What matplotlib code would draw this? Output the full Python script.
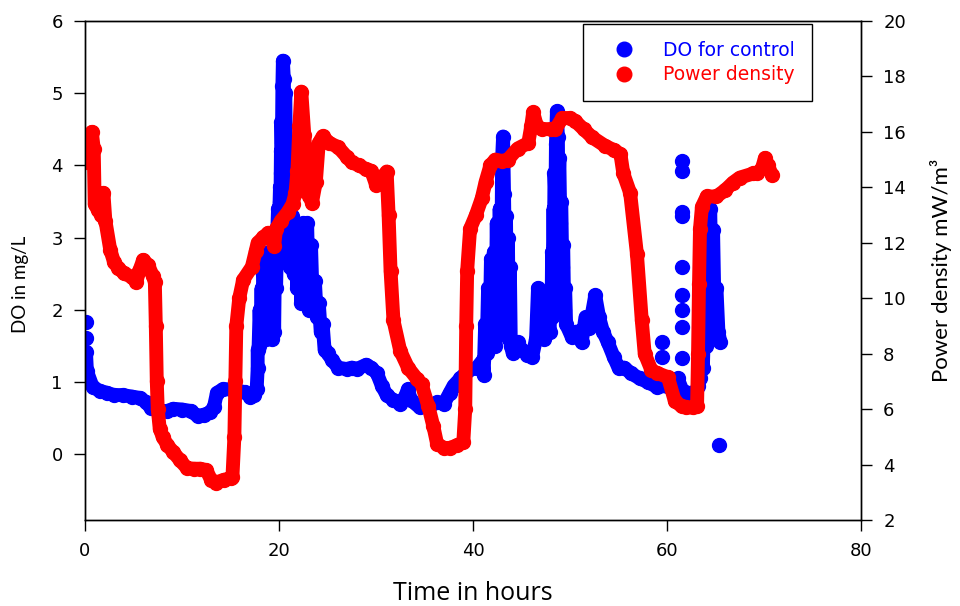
import matplotlib
matplotlib.use('Agg')
import matplotlib.pyplot as plt
from matplotlib.lines import Line2D

# DO for control (mg/L), main trace in time order
do_hours = [0.1, 0.2, 0.8, 1.5, 2.3, 3.0, 3.9, 4.8, 5.7, 6.3, 6.8, 7.5, 8.5, 9.1, 10.0,
            10.9, 11.6, 12.3, 12.9, 13.3, 13.6, 14.2, 15.0, 15.8, 16.5, 17.0, 17.4, 17.7,
            17.8, 17.8, 17.9, 18.0, 18.1, 18.2, 18.3, 18.4, 18.5, 18.6, 18.7, 18.8, 18.9,
            19.0, 19.1, 19.2, 19.3, 19.4, 19.5, 19.6, 19.7, 19.8, 19.9, 20.0, 20.1, 20.15,
            20.2, 20.2, 20.25, 20.3, 20.35, 20.4, 20.5, 20.55, 20.65, 20.7, 20.8, 20.9, 21.0,
            21.1, 21.3, 21.5, 21.7, 21.9, 22.1, 22.3, 22.5, 22.7, 22.9, 23.1, 23.3, 23.5,
            23.7, 23.9, 24.1, 24.3, 24.5, 24.7, 25.0, 25.5, 26.1, 27.0, 27.5, 28.0, 29.0,
            29.5, 30.1, 30.6, 31.1, 31.8, 32.5, 33.0, 33.3, 33.6, 34.5, 35.5, 36.3, 37.0,
            37.6, 38.0, 38.7, 39.4, 40.4, 41.0, 41.1, 41.25, 41.4, 41.55, 41.7, 41.85, 42.0,
            42.15, 42.3, 42.45, 42.6, 42.75, 42.9, 43.0, 43.1, 43.2, 43.3, 43.4, 43.5, 43.6,
            43.7, 43.8, 43.9, 44.1, 44.6, 45.0, 45.6, 46.1, 46.5, 46.7, 46.9, 47.3, 47.7,
            47.9, 48.0, 48.1, 48.15, 48.2, 48.3, 48.35, 48.4, 48.5, 48.55, 48.65, 48.75, 48.8,
            48.9, 49.0, 49.1, 49.2, 49.3, 49.4, 49.5, 49.6, 50.2, 50.7, 51.2, 51.6, 52.0,
            52.6, 53.0, 53.4, 53.9, 54.5, 55.0, 55.6, 56.3, 57.2, 58.0, 59.0, 60.0, 61.1,
            61.6, 62.2, 62.8, 63.2, 63.4, 63.6, 63.7, 63.9, 64.0, 64.2, 64.3, 64.45, 64.6,
            64.75, 64.9, 65.1, 65.3, 65.5]
do_values = [1.42, 1.15, 0.93, 0.88, 0.85, 0.82, 0.82, 0.80, 0.78, 0.72, 0.64, 0.60, 0.60, 0.63, 0.62,
             0.60, 0.53, 0.55, 0.58, 0.66, 0.85, 0.90, 0.90, 0.88, 0.86, 0.80, 0.82, 0.90,
             1.19, 1.44, 1.50, 2.00, 1.60, 2.30, 1.60, 2.50, 1.70, 2.60, 1.60, 2.70, 1.70,
             2.80, 1.80, 2.60, 1.60, 2.80, 1.70, 2.90, 2.30, 3.00, 3.40, 3.20, 3.70, 3.50,
             4.20, 3.90, 4.60, 4.30, 5.10, 5.45, 5.20, 4.60, 5.00, 4.30, 3.80, 4.10, 3.40,
             2.60, 3.30, 2.50, 3.20, 2.30, 3.10, 2.10, 3.20, 2.10, 3.20, 2.00, 2.90, 2.00,
             2.40, 1.90, 2.10, 1.70, 1.80, 1.45, 1.40, 1.30, 1.20, 1.18, 1.20, 1.18, 1.24,
             1.20, 1.12, 0.95, 0.82, 0.75, 0.70, 0.80, 0.90, 0.75, 0.65, 0.66, 0.72, 0.70,
             0.85, 0.95, 1.05, 1.15, 1.20, 1.30, 1.10, 1.80, 1.40, 2.30, 1.50, 2.70, 1.60,
             2.80, 1.50, 3.20, 1.70, 3.40, 2.20, 4.10, 4.40, 3.60, 2.60, 3.30, 2.00, 3.00,
             1.60, 2.60, 1.50, 1.40, 1.55, 1.45, 1.38, 1.35, 1.60, 2.30, 1.70, 1.60, 1.90,
             1.70, 2.20, 1.90, 2.80, 2.30, 3.40, 2.90, 3.90, 3.50, 4.30, 4.75, 4.40, 3.60,
             4.10, 3.20, 3.50, 2.60, 2.90, 2.00, 2.30, 1.80, 1.62, 1.70, 1.55, 1.90, 1.75,
             2.20, 1.90, 1.70, 1.55, 1.35, 1.20, 1.20, 1.12, 1.05, 1.00, 0.93, 0.95, 1.05,
             0.88, 0.85, 0.80, 0.95, 1.05, 1.60, 1.20, 2.20, 1.50, 2.80, 1.80, 3.40, 2.40,
             3.10, 2.00, 2.30, 1.70, 1.55]

# DO readings standing apart from the trace
do_single_hours = [0.1, 0.1, 59.5, 59.5, 61.5, 61.5, 61.5, 61.5, 61.5, 61.5, 61.5, 61.5, 61.5, 65.4]
do_single_values = [1.83, 1.61, 1.55, 1.35, 4.06, 3.92, 3.36, 3.30, 2.60, 2.21, 2.00, 1.76, 1.33, 0.13]

# Power density (mW/m3)
pd_hours = [0.0, 0.3, 0.5, 0.7, 0.9, 1.0, 1.3, 1.7, 1.9, 2.1, 2.6, 3.0, 3.4, 4.0, 4.8, 5.3,
            5.6, 6.0, 6.5, 7.0, 7.2, 7.3, 7.4, 7.5, 7.7, 8.0, 8.5, 9.1, 9.8, 10.5, 11.2, 11.9,
            12.5, 13.0, 13.5, 14.3, 15.0, 15.2, 15.4, 15.5, 15.6, 15.9, 16.3, 17.2, 17.6,
            17.8, 18.4, 18.9, 19.5, 19.7, 20.2, 20.9, 21.4, 21.7, 21.9, 22.1, 22.3, 22.6,
            22.9, 23.1, 23.4, 23.8, 24.1, 24.5, 25.2, 26.1, 27.0, 27.5, 28.2, 29.0, 29.5,
            30.0, 30.5, 31.1, 31.3, 31.5, 31.8, 32.5, 33.3, 34.2, 34.7, 35.4, 35.9, 36.3,
            37.0, 37.6, 38.4, 39.0, 39.2, 39.3, 39.4, 39.7, 40.3, 40.9, 41.3, 41.8, 42.3,
            43.0, 43.6, 44.6, 45.7, 46.0, 46.2, 46.6, 47.1, 48.0, 48.5, 49.2, 50.0, 50.5,
            51.4, 52.3, 53.6, 54.5, 55.2, 55.5, 56.2, 56.9, 57.4, 57.7, 58.4, 59.0, 60.1,
            60.8, 61.5, 62.0, 62.7, 63.1, 63.2, 63.3, 63.4, 63.6, 64.1, 65.1, 66.0, 66.8,
            67.5, 68.9, 69.3, 69.8, 70.1, 70.4, 70.8]
pd_values = [14.9, 15.2, 15.6, 16.0, 15.4, 13.4, 13.2, 13.0, 13.8, 12.8, 11.75, 11.3, 11.1, 10.9, 10.77, 10.6,
             11.0, 11.38, 11.2, 10.8, 10.6, 9.0, 7.0, 6.0, 5.3, 5.0, 4.7, 4.45, 4.15, 3.88, 3.85, 3.85,
             3.8, 3.45, 3.35, 3.45, 3.5, 3.55, 5.0, 7.0, 9.0, 10.0, 10.66, 11.13, 11.7,
             12.0, 12.2, 12.36, 11.9, 12.5, 12.8, 13.1, 13.4, 13.8, 14.6, 16.2, 17.45, 15.9,
             14.4, 13.7, 13.45, 14.2, 15.6, 15.84, 15.6, 15.45, 15.1, 14.9, 14.8, 14.65, 14.6,
             14.1, 14.3, 14.57, 13.0, 11.0, 9.2, 8.1, 7.5, 7.1, 6.9, 6.1, 5.4, 4.75,
             4.6, 4.6, 4.7, 4.8, 6.0, 9.0, 11.0, 12.5, 13.0, 13.6, 14.2, 14.8, 15.0,
             14.95, 15.0, 15.4, 15.6, 16.2, 16.7, 16.2, 16.1, 16.1, 16.1, 16.5, 16.5, 16.4,
             16.1, 15.8, 15.5, 15.35, 15.2, 14.5, 13.8, 11.6, 9.2, 8.0, 7.4, 7.3, 7.15,
             6.3, 6.1, 6.06, 6.06, 6.1, 8.0, 10.5, 12.5, 13.3, 13.67, 13.67, 13.9, 14.17,
             14.35, 14.5, 14.5, 14.7, 15.06, 14.8, 14.46]

x_ticks = [0, 20, 40, 60, 80]
do_ticks = [0, 1, 2, 3, 4, 5, 6]
pd_ticks = [2, 4, 6, 8, 10, 12, 14, 16, 18, 20]

blue = '#0000ff'
red = '#ff0000'
dot = 10   # dot diameter in points; the trace is drawn as wide as the dots

fig = plt.figure(figsize=(9.6, 6.06), dpi=100)
ax1 = fig.add_axes([85 / 960, 86 / 606, 776 / 960, 499 / 606])
ax2 = ax1.twinx()

ax1.plot(do_hours, do_values, color=blue, lw=dot, marker='o', ms=dot,
         solid_capstyle='round', solid_joinstyle='round')
ax1.plot(do_single_hours, do_single_values, color=blue, ls='none', marker='o', ms=dot)
ax2.plot(pd_hours, pd_values, color=red, lw=dot, marker='o', ms=dot,
         solid_capstyle='round', solid_joinstyle='round')

ax1.set_xlim(0, 80)
ax1.set_ylim(-0.91, 6)
ax2.set_ylim(2, 20)
ax1.set_xticks(x_ticks)
ax1.set_yticks(do_ticks)
ax2.set_yticks(pd_ticks)

for ax in (ax1, ax2):
    ax.tick_params(direction='out', length=8, width=1, labelsize=13, pad=8, colors='black')
    for sp in ax.spines.values():
        sp.set_color('black')
        sp.set_linewidth(1)

fig.text(21 / 960, 1 - 284 / 606, 'DO in mg/L', rotation=90, ha='center', va='center',
         family='Lato', fontsize=13.5)
fig.text(473 / 960, 1 - 600 / 606, 'Time in hours', ha='center', va='baseline',
         family='Open Sans', fontsize=18)
fig.text(941 / 960, 1 - 270 / 606, 'Power density mW/m³', rotation=90, ha='center', va='center',
         family='Lato', fontsize=16)

handles = [Line2D([], [], color=blue, ls='none', marker='o', ms=10.5),
           Line2D([], [], color=red, ls='none', marker='o', ms=10.5)]
leg = ax2.legend(handles, ['DO for control', 'Power density'], loc='upper right',
                 bbox_to_anchor=(0.937, 0.994), borderaxespad=0, fancybox=False,
                 edgecolor='black', framealpha=1, borderpad=0.9, handlelength=2.6,
                 handletextpad=0.8, labelspacing=0.3, prop={'size': 13.5})
leg.get_frame().set_linewidth(1)
for t, c in zip(leg.get_texts(), [blue, red]):
    t.set_color(c)

fig.savefig('out.png', dpi=100)
